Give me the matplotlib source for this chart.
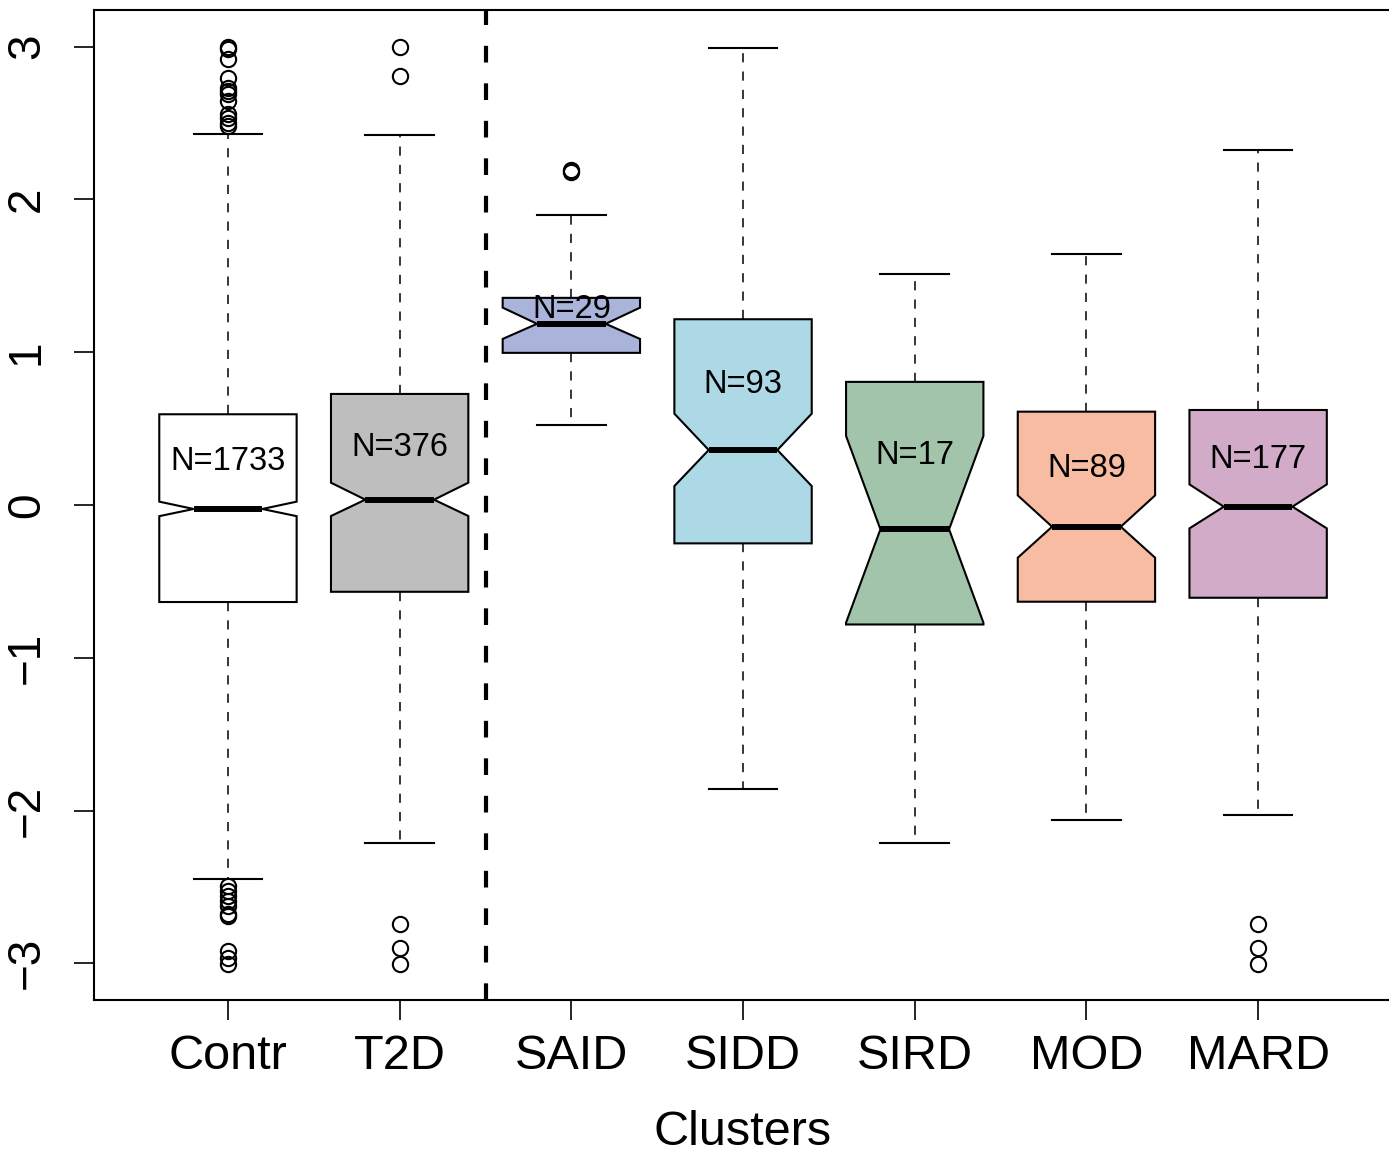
import matplotlib
matplotlib.use("Agg")
import matplotlib.pyplot as plt

plt.rcParams['font.family'] = ['Liberation Sans', 'DejaVu Sans']

# values
labels = ["Contr", "T2D", "SAID", "SIDD", "SIRD", "MOD", "MARD"]
med = [-0.026, 0.035, 1.186, 0.360, -0.159, -0.142, -0.011]
q1 = [-0.635, -0.568, 0.996, -0.251, -0.782, -0.633, -0.607]
q3 = [0.594, 0.727, 1.356, 1.216, 0.806, 0.611, 0.622]
whislo = [-2.45, -2.21, 0.524, -1.86, -2.21, -2.063, -2.03]
whishi = [2.43, 2.42, 1.90, 2.99, 1.51, 1.644, 2.325]
notch_lo = [-0.073, -0.072, 1.087, 0.124, -0.770, -0.345, -0.153]
notch_hi = [0.022, 0.146, 1.292, 0.598, 0.452, 0.063, 0.135]
fliers = [
    [2.995, 2.987, 2.92, 2.797, 2.731, 2.71, 2.69, 2.646, 2.56, 2.53, 2.50, 2.48,
     -2.495, -2.528, -2.561, -2.594, -2.627, -2.679, -2.692, -2.921, -2.967, -3.006],
    [2.995, 2.81, -2.745, -2.90, -3.006],
    [2.194, 2.18],
    [],
    [],
    [],
    [-2.745, -2.90, -3.006],
]
n_text = ["N=1733", "N=376", "N=29", "N=93", "N=17", "N=89", "N=177"]
n_y = [0.282, 0.375, 1.277, 0.79, 0.321, 0.236, 0.30]
colors = ["#FFFFFF", "#BEBEBE", "#AAB4DA", "#ADD8E6", "#A1C4AA", "#F8BCA3", "#D2ABC8"]
split_x = 2.5  # dashed separator between reference groups and clusters

stats = []
for i in range(len(labels)):
    stats.append(dict(label=labels[i], med=med[i], q1=q1[i], q3=q3[i],
                      whislo=whislo[i], whishi=whishi[i],
                      cilo=notch_lo[i], cihi=notch_hi[i], fliers=fliers[i]))

fig = plt.figure(figsize=(13.89, 11.53), dpi=100)
ax = fig.add_axes([0.0677, 0.1327, 0.9345, 0.8586])

bp = ax.bxp(stats, positions=range(1, 8), widths=0.8, capwidths=0.4,
            shownotches=True, patch_artist=True,
            boxprops=dict(linewidth=1.5, edgecolor='black'),
            medianprops=dict(color='black', linewidth=4.3, solid_capstyle='butt'),
            whiskerprops=dict(color='black', linewidth=1.1, linestyle=(0, (6, 6))),
            capprops=dict(color='black', linewidth=1.5),
            flierprops=dict(marker='o', markerfacecolor='none', markeredgecolor='black',
                            markersize=11, markeredgewidth=1.5, linestyle='none'))
for patch, c in zip(bp['boxes'], colors):
    patch.set_facecolor(c)

for i, t in enumerate(n_text):
    ax.text(i + 1, n_y[i], t, ha='center', va='center', fontsize=23.5, zorder=5)

ax.axvline(split_x, color='black', linewidth=3, linestyle=(0, (4, 5)))

ax.set_xlim(0.22, 7.78)
ax.set_ylim(-3.24, 3.24)
ax.set_yticks([-3, -2, -1, 0, 1, 2, 3])
ax.set_yticklabels(["\u22123", "\u22122", "\u22121", "0", "1", "2", "3"],
                   rotation=90, va='center')
ax.set_xticks(range(1, 8))
ax.set_xticklabels(labels)
ax.tick_params(axis='y', labelsize=33, length=14.5, width=1.2, pad=18)
ax.tick_params(axis='x', labelsize=35, length=14.5, width=1.2, pad=10)
ax.set_xlabel("Clusters", fontsize=35, labelpad=22)
for s in ax.spines.values():
    s.set_linewidth(1.5)

fig.savefig("out.png", dpi=100)
